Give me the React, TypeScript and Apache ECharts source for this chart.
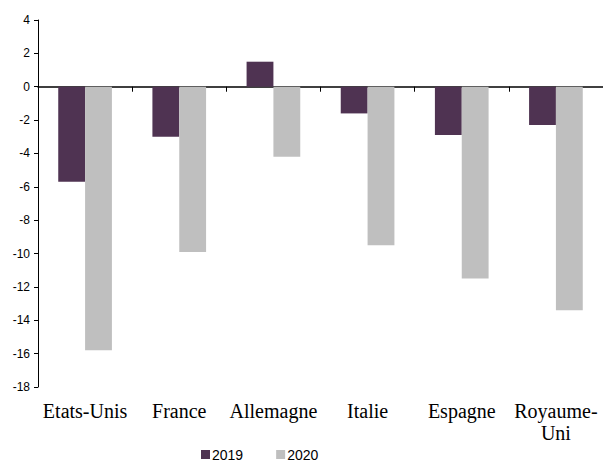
import React, { useEffect, useRef } from "react";
import * as echarts from "echarts";

const categories = ["Etats-Unis", "France", "Allemagne", "Italie", "Espagne", "Royaume-\nUni"];
const values2019 = [-5.7, -3.0, 1.5, -1.6, -2.9, -2.3];
const values2020 = [-15.8, -9.9, -4.2, -9.5, -11.5, -13.4];
const seriesNames = ["2019", "2020"];

export default function App() {
  const ref = useRef<HTMLDivElement>(null);
  useEffect(() => {
    if (!ref.current) return;
    const chart = echarts.init(ref.current, null, { renderer: "svg" });
    chart.setOption({
      animation: false,
      backgroundColor: "#ffffff",
      grid: { left: 38, right: -5, top: 20, bottom: 76, containLabel: false },
      legend: {
        left: 201,
        top: 447,
        padding: 0,
        itemWidth: 9,
        itemHeight: 9,
        itemGap: 33,
        icon: "rect",
        textStyle: { fontFamily: "Arial, Liberation Sans", fontSize: 14, lineHeight: 15, color: "#000", padding: [0, 0, 0, -3] },
        data: seriesNames,
      },
      xAxis: [
        {
          type: "category",
          data: categories,
          position: "bottom",
          axisLine: { onZero: true, lineStyle: { color: "#000", width: 1.5 } },
          axisTick: { show: true, length: 5, lineStyle: { color: "#000" } },
          axisLabel: { show: false },
        },
        {
          type: "category",
          data: categories,
          position: "bottom",
          axisLine: { show: false, onZero: false },
          axisTick: { show: false },
          axisLabel: {
            show: true,
            margin: 13,
            fontFamily: "Liberation Serif, Times New Roman, serif",
            fontSize: 20,
            lineHeight: 22,
            color: "#000",
            interval: 0,
          },
        },
      ],
      yAxis: {
        type: "value",
        min: -18,
        max: 4,
        interval: 2,
        axisLine: { show: true, lineStyle: { color: "#000" } },
        axisTick: { show: true, length: 4, lineStyle: { color: "#000" } },
        splitLine: { show: false },
        axisLabel: { fontFamily: "Arial, Liberation Sans", fontSize: 12, color: "#000", margin: 8 },
      },
      series: [
        {
          name: seriesNames[0],
          type: "bar",
          xAxisIndex: 0,
          data: values2019,
          barGap: "0%",
          barCategoryGap: "43%",
          itemStyle: { color: "#4f3352" },
        },
        {
          name: seriesNames[1],
          type: "bar",
          xAxisIndex: 0,
          data: values2020,
          barGap: "0%",
          barCategoryGap: "43%",
          itemStyle: { color: "#bfbfbf" },
        },
      ],
    });
    return () => chart.dispose();
  }, []);
  return <div ref={ref} style={{ width: 603, height: 463, position: "absolute", left: 0, top: 0 }} />;
}
